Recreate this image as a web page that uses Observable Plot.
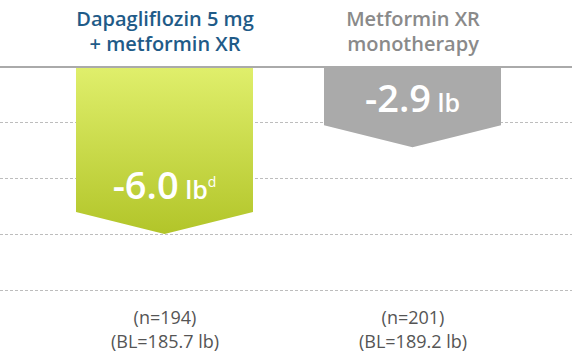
<!DOCTYPE html>
<html>
<head>
<meta charset="utf-8">
<script src="https://cdn.jsdelivr.net/npm/d3@7"></script>
<script src="https://cdn.jsdelivr.net/npm/@observablehq/plot@0.6"></script>
<style>
  html, body { margin: 0; padding: 0; background: #fff; }
  #chart { width: 572px; height: 361px; }
</style>
</head>
<body>
<div id="chart"></div>
<script>
// ---- data ----
const categories = ["Dapagliflozin 5 mg + metformin XR", "Metformin XR monotherapy"];
const headerLines = ["Dapagliflozin 5 mg\n+ metformin XR", "Metformin XR\nmonotherapy"];
const values = [-6.0, -2.9];
const valueLabels = ["-6.0", "-2.9"];
const unitLabels = ["lb", "lb"];
const footnoteMarks = ["d", ""];
const sampleSizes = ["(n=194)", "(n=201)"];
const baselineLabels = ["(BL=185.7 lb)", "(BL=189.2 lb)"];
const gridValues = [-2, -4, -6, -8];

// ---- styles ----
const headerColors = ["#1f5b88", "#8a8a8a"];
const fills = ["url(#greenGrad)", "#aaaaaa"];

const rows = categories.map((c, i) => ({
  category: c,
  value: values[i],
  header: headerLines[i],
  label: valueLabels[i],
  unit: unitLabels[i],
  sup: footnoteMarks[i],
  foot: sampleSizes[i] + "\n" + baselineLabels[i],
  headerColor: headerColors[i],
  fill: fills[i]
}));

const NS = "http://www.w3.org/2000/svg";
function el(name, attrs) {
  const e = document.createElementNS(NS, name);
  for (const k in attrs) e.setAttribute(k, attrs[k]);
  return e;
}

// custom mark: arrow-shaped bars + value labels, positioned by Plot's scales
function arrowBars(index, scales) {
  const x = scales.x, y = scales.y;
  const bw = typeof x.bandwidth === "function" ? x.bandwidth() : x.bandwidth;
  const notch = 22;
  const g = el("g", {});
  const defs = el("defs", {});
  const grad = el("linearGradient", {id: "greenGrad", x1: 0, y1: 0, x2: 0, y2: 1});
  grad.appendChild(el("stop", {offset: "0%", "stop-color": "#e0ef6c"}));
  grad.appendChild(el("stop", {offset: "100%", "stop-color": "#b2c529"}));
  defs.appendChild(grad);
  g.appendChild(defs);
  for (const d of rows) {
    const x0 = x(d.category), x1 = x0 + bw, xc = x0 + bw / 2;
    const y0 = y(0), yt = y(d.value), yb = yt - notch;
    g.appendChild(el("path", {
      d: `M${x0},${y0}H${x1}V${yb}L${xc},${yt}L${x0},${yb}Z`,
      fill: d.fill
    }));
    const t = el("text", {
      x: xc, y: yt - 35, "text-anchor": "middle", fill: "#fff",
      "font-family": "'Open Sans', sans-serif"
    });
    const t1 = el("tspan", {"font-size": 38, "font-weight": 600});
    t1.textContent = d.label;
    const t2 = el("tspan", {"font-size": 25, "font-weight": 600});
    t2.textContent = "\u00a0" + d.unit;
    t.appendChild(t1); t.appendChild(t2);
    if (d.sup) {
      const t3 = el("tspan", {"font-size": 14, "font-weight": 400, dy: -12});
      t3.textContent = d.sup;
      t.appendChild(t3);
    }
    g.appendChild(t);
  }
  return g;
}

const chart = Plot.plot({
  width: 572,
  height: 361,
  marginTop: 0, marginBottom: 0, marginLeft: 0, marginRight: 0,
  style: {fontFamily: "'Open Sans', sans-serif", background: "#fff", overflow: "visible"},
  x: {type: "band", domain: categories, range: [75, 502], paddingInner: 0.285, paddingOuter: 0, axis: null},
  y: {domain: [0, -8], range: [66, 290], axis: null},
  marks: [
    Plot.ruleY(gridValues, {stroke: "#bdbdbd", strokeWidth: 1, strokeDasharray: "3,2"}),
    arrowBars,
    Plot.ruleY([0], {stroke: "#aaaaaa", strokeWidth: 2, dy: 0.5}),
    Plot.text(rows, {
      x: "category", text: "header", frameAnchor: "top", lineAnchor: "top",
      dy: 8, lineHeight: 1.25, fontSize: 20, fontWeight: 600, fill: "headerColor"
    }),
    Plot.text(rows, {
      x: "category", text: "foot", frameAnchor: "bottom", lineAnchor: "bottom",
      dy: -14, lineHeight: 1.32, fontSize: 18, fontWeight: 400, fill: "#555555"
    })
  ]
});
document.getElementById("chart").appendChild(chart);
</script>
</body>
</html>
